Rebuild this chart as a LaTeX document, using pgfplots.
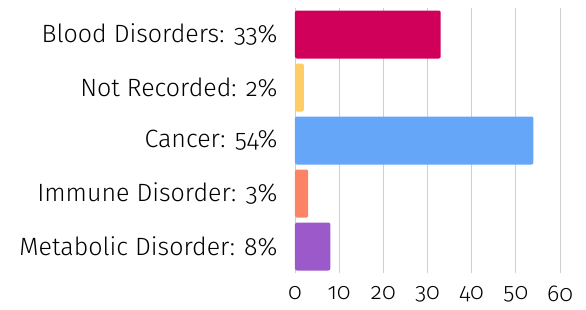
\documentclass[border=0pt]{standalone}
\usepackage{fontspec}
\setmainfont{Fira Sans Light}[Numbers=OldStyle]
\usepackage{pgfplots}
\pgfplotsset{compat=1.18}
\definecolor{cBlood}{RGB}{208,0,90}
\definecolor{cNot}{RGB}{255,204,102}
\definecolor{cCancer}{RGB}{102,166,248}
\definecolor{cImm}{RGB}{252,132,102}
\definecolor{cMeta}{RGB}{155,89,201}
\begin{document}
\begin{tikzpicture}
\path[use as bounding box] (-295pt,-36pt) rectangle (291pt,273pt);
\begin{axis}[
  at={(0pt,0pt)}, anchor=south west,
  scale only axis, width=265pt, height=265pt,
  xbar, bar width=48pt, bar shift=0pt,
  xmin=0, xmax=60, ymin=-0.5, ymax=4.5,
  xtick={0,10,...,60},
  ytick={0,1,2,3,4},
  yticklabels={Metabolic Disorder: 8\%, Immune Disorder: 3\%, Cancer: 54\%, Not Recorded: 2\%, Blood Disorders: 33\%},
  axis line style={draw=none},
  tick style={draw=none},
  xmajorgrids, grid style={gray!38, line width=0.8pt},
  /pgf/number format/assume math mode=true,
  yticklabel style={font=\fontsize{25}{28}\selectfont, inner sep=0pt, xshift=-13pt},
  xticklabel style={font=\fontsize{23}{26}\selectfont, inner sep=0pt, yshift=-13pt},
]
\addplot[fill=cMeta, draw=none, rounded corners=2pt] coordinates {(8,0)};
\addplot[fill=cImm, draw=none, rounded corners=2pt] coordinates {(3,1)};
\addplot[fill=cCancer, draw=none, rounded corners=2pt] coordinates {(54,2)};
\addplot[fill=cNot, draw=none, rounded corners=2pt] coordinates {(2,3)};
\addplot[fill=cBlood, draw=none, rounded corners=2pt] coordinates {(33,4)};
\end{axis}
\end{tikzpicture}
\end{document}
